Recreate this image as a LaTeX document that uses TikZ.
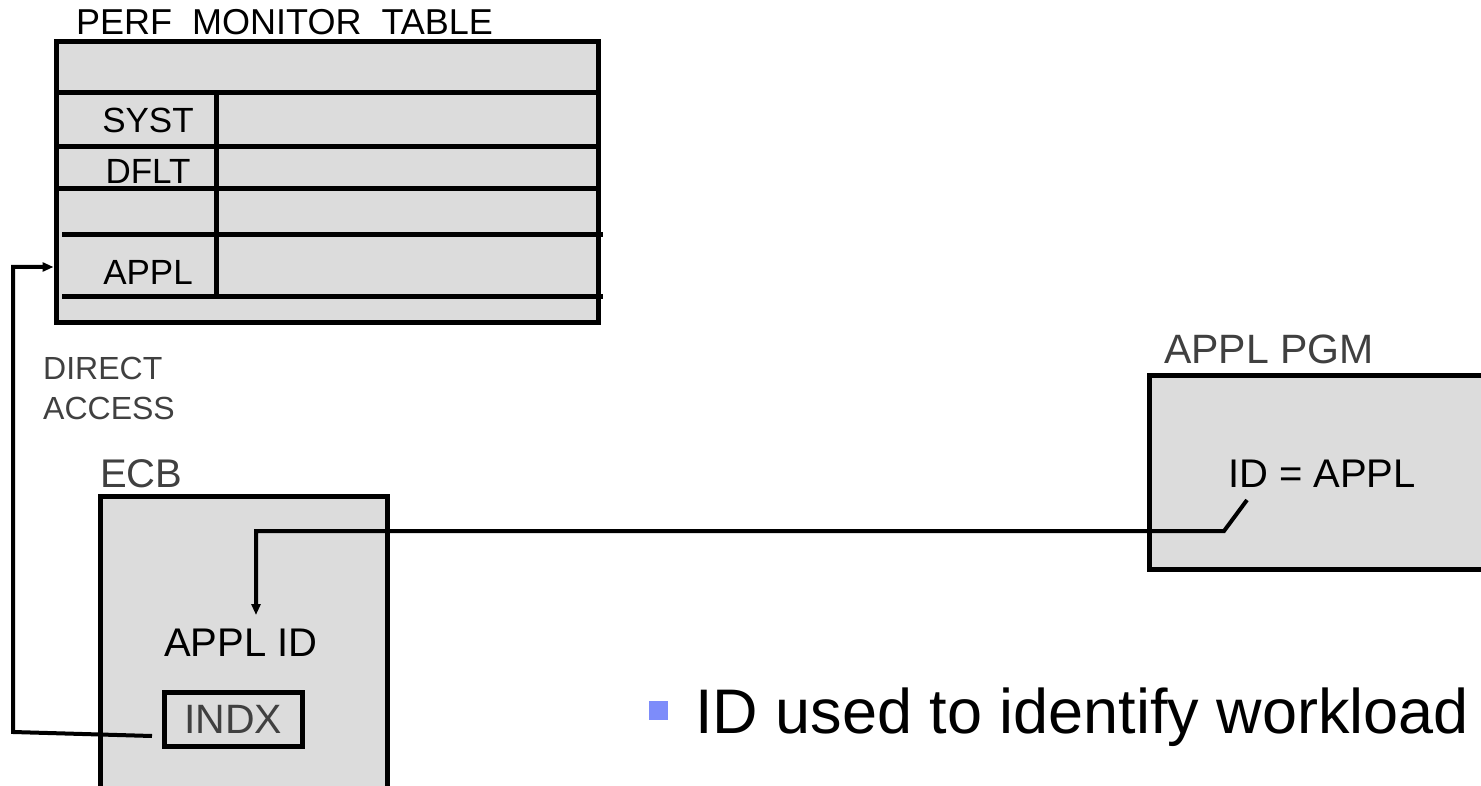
\documentclass[tikz,border=0pt]{standalone}
\usepackage{fontspec}
\setmainfont{Liberation Sans}
\usetikzlibrary{arrows.meta}
\definecolor{boxfill}{RGB}{220,220,220}
\definecolor{labelgray}{RGB}{64,64,64}
\definecolor{bulletblue}{RGB}{125,140,250}
\begin{document}
\begin{tikzpicture}[x=1pt,y=-1pt,
  boxstyle/.style={draw=black, fill=boxfill, line width=5pt, inner sep=0pt},
  rule/.style={line width=5pt},
  conn/.style={line width=4pt, -{Triangle[length=11pt,width=9pt]}},
  rowlbl/.style={anchor=base, inner sep=0pt, font=\fontsize{35}{42}\selectfont},
  graylbl/.style={anchor=base west, inner sep=0pt, text=labelgray},
  blacklbl/.style={anchor=base, inner sep=0pt, font=\fontsize{40}{48}\selectfont}
]
\useasboundingbox (0,0) rectangle (1481,786);
\clip (0,0) rectangle (1481,786);

% PERF MONITOR TABLE
\node[anchor=base west, inner sep=0pt, font=\fontsize{36}{42}\selectfont] (title) at (76,35) {PERF\ \ MONITOR\ \ TABLE};
\node[boxstyle, minimum width=542pt, minimum height=281pt] (tbl) at (327,182.5) {};
\draw[rule] (56,93) -- (598,93);
\draw[rule] (56,147) -- (598,147);
\draw[rule] (56,189) -- (598,189);
\draw[rule] (62,235) -- (603,235);
\draw[rule] (62,297) -- (603,297);
\draw[rule] (216,93) -- (216,297);
\node[rowlbl] (syst) at (148,133) {SYST};
\node[rowlbl] (dflt) at (148,184) {DFLT};
\node[rowlbl] (applrow) at (148,285) {APPL};

% DIRECT ACCESS
\node[anchor=north west, inner sep=0pt, align=left, text=labelgray, font=\fontsize{32}{40}\selectfont] (direct) at (43,357) {DIRECT\\ACCESS};

% ECB
\node[graylbl, font=\fontsize{40}{46}\selectfont] (ecblbl) at (100,487) {ECB};
\node[boxstyle, minimum width=287pt, minimum height=320pt, anchor=north west] (ecb) at (98,494) {};
\node[blacklbl] (applid) at (241,656) {APPL ID};
\node[boxstyle, minimum width=138pt, minimum height=54pt, text=labelgray, font=\fontsize{41}{48}\selectfont] (indx) at (233,719) {INDX};

% APPL PGM
\node[graylbl, font=\fontsize{41}{48}\selectfont] (pgmlbl) at (1164,363) {APPL PGM};
\node[boxstyle, minimum width=451pt, minimum height=194pt] (pgm) at (1374.5,472) {};
\node[blacklbl] (idappl) at (1322,487) {ID = APPL};

% connectors
\coordinate (dstart) at (152,736);
\coordinate (dcorner) at (13,267);
\draw[conn] (dstart) -- (13,732) -- (dcorner) -- (dcorner -| tbl.west);
\coordinate (pstart) at (1247,500);
\coordinate (ptip) at (256,615);
\draw[conn] (pstart) -- (1224,531) -- (256,531) -- (ptip);

% bullet
\fill[bulletblue] (649,701) rectangle (668,720);
\node[anchor=base west, inner sep=0pt, font=\fontsize{63}{75}\selectfont] (bullet) at (695,733) {ID used to identify workload};
\end{tikzpicture}
\end{document}
